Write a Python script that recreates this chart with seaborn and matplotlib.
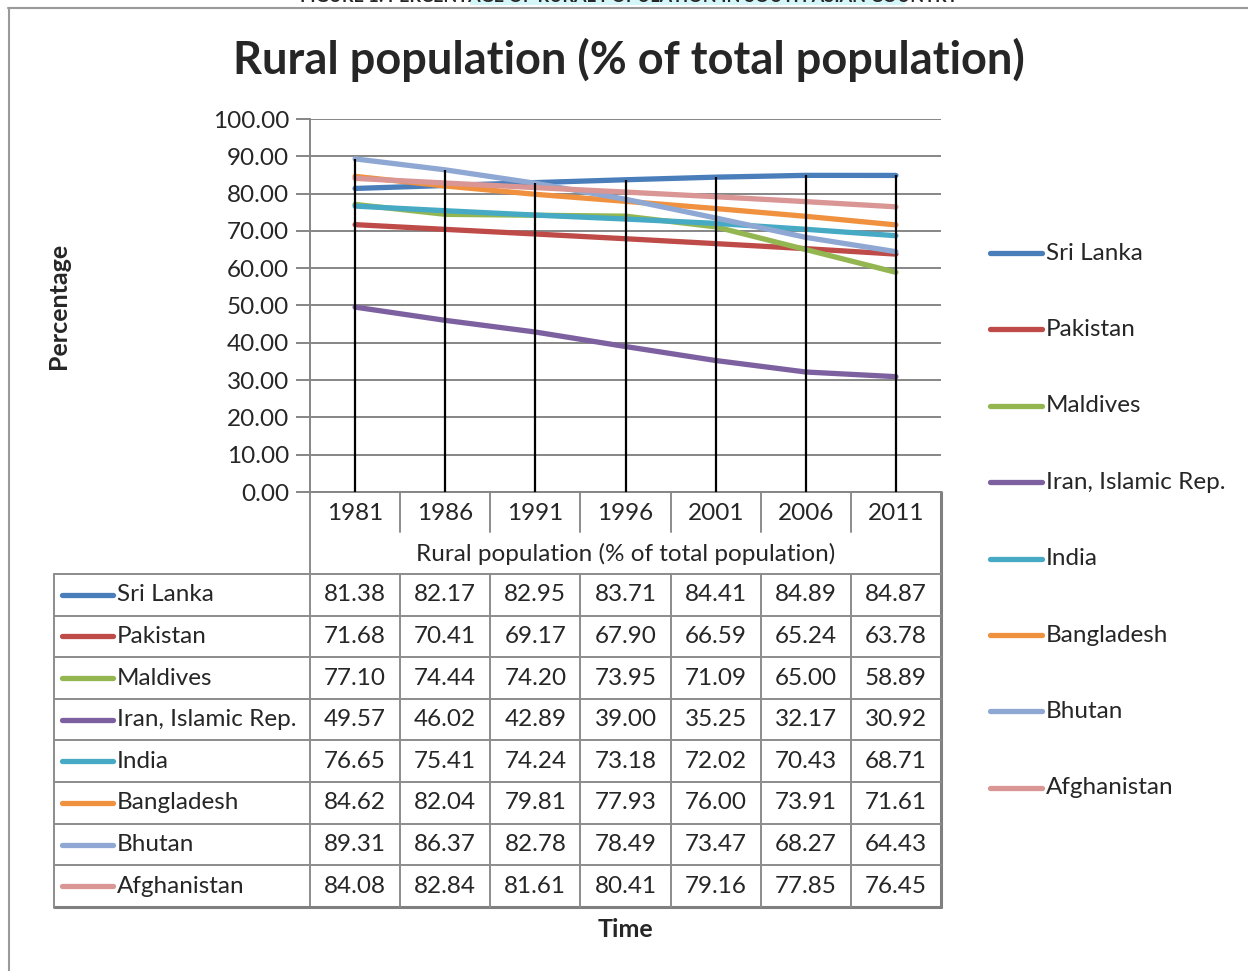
import numpy as np
import pandas as pd
import matplotlib
matplotlib.use("Agg")
import matplotlib.pyplot as plt
import seaborn as sns

years = ["1981", "1986", "1991", "1996", "2001", "2006", "2011"]
countries = ["Sri Lanka", "Pakistan", "Maldives", "Iran, Islamic Rep.",
             "India", "Bangladesh", "Bhutan", "Afghanistan"]
sri_lanka = [81.38, 82.17, 82.95, 83.71, 84.41, 84.89, 84.87]
pakistan = [71.68, 70.41, 69.17, 67.90, 66.59, 65.24, 63.78]
maldives = [77.10, 74.44, 74.20, 73.95, 71.09, 65.00, 58.89]
iran = [49.57, 46.02, 42.89, 39.00, 35.25, 32.17, 30.92]
india = [76.65, 75.41, 74.24, 73.18, 72.02, 70.43, 68.71]
bangladesh = [84.62, 82.04, 79.81, 77.93, 76.00, 73.91, 71.61]
bhutan = [89.31, 86.37, 82.78, 78.49, 73.47, 68.27, 64.43]
afghanistan = [84.08, 82.84, 81.61, 80.41, 79.16, 77.85, 76.45]
series = [sri_lanka, pakistan, maldives, iran, india, bangladesh, bhutan, afghanistan]
colors = ["#4A7EBB", "#BE4B48", "#93B651", "#7D60A0",
          "#46AAC5", "#F0913F", "#8EA8D3", "#D99694"]

title = "Rural population (% of total population)"
caption = "FIGURE 1: PERCENTAGE OF RURAL POPULATION IN SOUTH ASIAN COUNTRY"

rows = []
for name, vals in zip(countries, series):
    for i, v in enumerate(vals):
        rows.append({"pos": i, "year": years[i], "country": name, "value": v})
df = pd.DataFrame(rows)

sns.set_theme(style="white")
plt.rcParams["font.family"] = ["Lato", "DejaVu Sans"]

W, H = 1248, 971
fig = plt.figure(figsize=(W / 100, H / 100), dpi=100)
fig.patch.set_facecolor("white")

GRID = "#868686"
EDGE = "#8C8C8C"
FS = 17.5

# overlay in pixel coordinates for frame, table and legend
ov = fig.add_axes([0, 0, 1, 1], facecolor="none")
ov.set_xlim(0, W)
ov.set_ylim(H, 0)
ov.axis("off")

# plot area
x0, x1, y0, y1 = 310, 941, 119, 492
ax = fig.add_axes([x0 / W, 1 - y1 / H, (x1 - x0) / W, (y1 - y0) / H])
ax.set_facecolor("none")
sns.lineplot(data=df, x="pos", y="value", hue="country", hue_order=countries,
             palette=colors, linewidth=3.8, legend=False, ax=ax, sort=False,
             solid_capstyle="round")
maxes = df.groupby("pos")["value"].max()
ax.vlines(maxes.index, 0, maxes.values, color="black", lw=1.6, zorder=10)
ax.set_xlim(-0.5, len(years) - 0.5)
ax.set_ylim(0, 100)
ax.set_yticks(np.arange(0, 101, 10))
ax.set_yticklabels([f"{v:.2f}" for v in np.arange(0, 101, 10)], fontsize=FS)
ax.set_xticks([])
ax.set_xlabel("")
ax.set_ylabel("")
ax.grid(axis="y", color=GRID, lw=1.4)
ax.tick_params(axis="y", length=10, width=1.4, color=GRID, pad=5, left=True)
for s in ["top", "right"]:
    ax.spines[s].set_visible(False)
for s in ["left", "bottom"]:
    ax.spines[s].set_color(GRID)
    ax.spines[s].set_linewidth(1.4)
ax.set_axisbelow(True)

# chart texts
fig.text(629 / W, 1 - 60 / H, title, ha="center", va="center",
         fontsize=32.5, fontweight="bold")
fig.text(59 / W, 1 - 306 / H, "Percentage", rotation=90, ha="center",
         va="center", fontsize=18, fontweight="bold")
fig.text(625 / W, 1 - 929 / H, "Time", ha="center", va="center",
         fontsize=18, fontweight="bold")

# caption above the chart frame, mostly cut off by the page edge
ov.add_patch(plt.Rectangle((470, -5), 435, 10, color="#D4F6F8", lw=0))
ov.text(629, -3, caption, ha="center", va="center", fontsize=13,
        fontweight="bold")

# outer chart frame
ov.plot([8, W], [8, 8], color="#9A9A9A", lw=1.5)
ov.plot([8.5, 8.5], [8, H], color="#9A9A9A", lw=1.5)

# data table
cols = np.linspace(x0, x1, len(years) + 1)
centers = (cols[:-1] + cols[1:]) / 2
t_left = 54
row_top = 574
row_h = (907 - 574) / len(countries)
row_edges = row_top + row_h * np.arange(len(countries) + 1)

# year row and series-name row
for c in cols[1:-1]:
    ov.plot([c, c], [y1, 532], color=EDGE, lw=1.4)
ov.plot([x0, x0], [y1, row_edges[-1]], color=EDGE, lw=1.4)
ov.plot([x1, x1], [y1, row_edges[-1]], color="#7F7F7F", lw=2.2)
for cx, yr in zip(centers, years):
    ov.text(cx, 513, yr, ha="center", va="center", fontsize=FS)
ov.text((x0 + x1) / 2, 554, title, ha="center", va="center", fontsize=FS)

# body rows
for i, ye in enumerate(row_edges):
    lw = 2.2 if i == len(row_edges) - 1 else 1.4
    col = "#7F7F7F" if i == len(row_edges) - 1 else EDGE
    ov.plot([t_left, x1], [ye, ye], color=col, lw=lw)
for c in cols[1:-1]:
    ov.plot([c, c], [row_top, row_edges[-1]], color=EDGE, lw=1.4)
ov.plot([t_left, t_left], [row_top, row_edges[-1]], color=EDGE, lw=1.4)

for r, (name, vals, colr) in enumerate(zip(countries, series, colors)):
    yc = row_top + row_h * (r + 0.5)
    ov.plot([62, 113], [yc, yc], color=colr, lw=3.8, solid_capstyle="round")
    ov.text(117, yc, name, ha="left", va="center", fontsize=FS)
    for cx, v in zip(centers, vals):
        ov.text(cx, yc, f"{v:.2f}", ha="center", va="center", fontsize=FS)

# legend on the right
for k, (name, colr) in enumerate(zip(countries, colors)):
    yl = 253 + k * 76.4
    ov.plot([990, 1042], [yl, yl], color=colr, lw=3.8, solid_capstyle="round")
    ov.text(1046, yl, name, ha="left", va="center", fontsize=FS)

fig.savefig("out.png", dpi=100)
